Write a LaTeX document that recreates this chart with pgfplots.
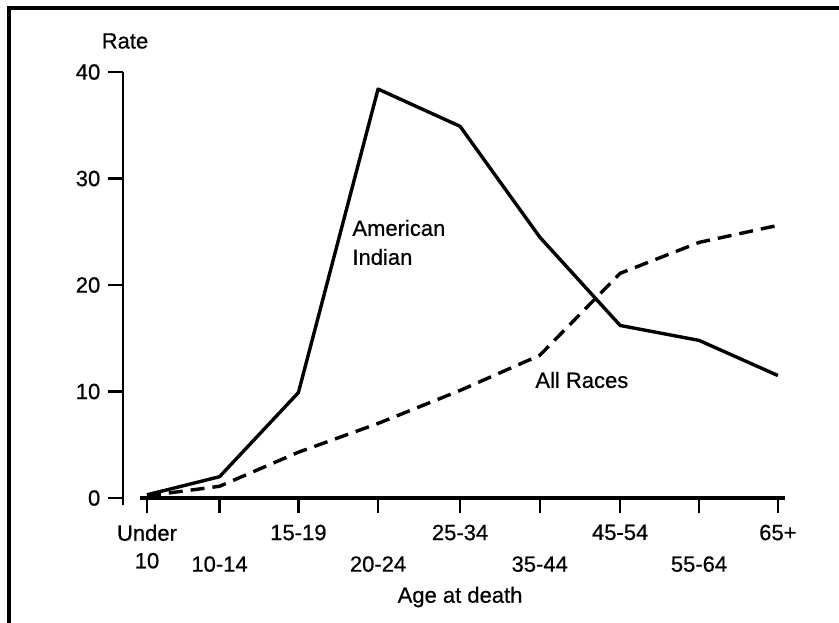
\documentclass[border=0pt]{standalone}
\usepackage{pgfplots}
\pgfplotsset{compat=1.18}
\usepackage{fontspec}
\setmainfont{Liberation Sans}[UprightFeatures={FakeBold=0.6}]
\begin{document}
\fontsize{11}{14.5}\selectfont
\begin{tikzpicture}
\useasboundingbox (-61.5pt,-62pt) rectangle (358pt,249pt);
\draw[line width=2pt] (-56.75pt,-80pt) -- (-56.75pt,245pt) -- (370pt,245pt);
\begin{axis}[
  at={(0,0)}, anchor=south west,
  scale only axis, width=331pt, height=213pt,
  xmin=-0.304, xmax=8.09, ymin=0, ymax=40,
  axis x line=bottom, axis y line=left,
  x axis line style={draw=none},
  y axis line style={line width=1.2pt, -},
  clip=false,
  tick align=outside,
  major tick length=7.5pt,
  every tick/.style={black, line width=1.1pt},
  ytick={0,10,20,30,40},
  xtick={0,0.92,1.92,2.93,3.97,4.98,6,7,8},
  xticklabels={Under\\10, \strut\\10-14, 15-19, \strut\\20-24, 25-34, \strut\\35-44, 45-54, \strut\\55-64, 65+},
  xticklabel style={align=center, anchor=north, yshift=-2pt, font=\fontsize{11}{13.8}\selectfont},
  yticklabel style={anchor=east, font=\fontsize{11}{14.5}\selectfont},
  /pgf/number format/assume math mode=true,
]
\draw[line width=1.8pt] (axis cs:-0.09,0) -- (axis cs:8.09,0);
\draw[line width=1.2pt] (axis cs:-0.304,0) -- (axis cs:-0.304,-0.7);
\addplot[line width=1.7pt, line join=round] coordinates {
  (0,0.3) (0.92,2.0) (1.92,9.9) (2.93,38.4) (3.97,34.9) (4.98,24.5) (6,16.2) (7,14.8) (8,11.5)
};
\addplot[line width=1.7pt, dash pattern=on 7pt off 4pt] coordinates {
  (0,0.2) (0.92,1.1) (1.92,4.3) (2.93,7.0) (3.97,10.1) (4.98,13.4) (6,21.1) (7,24.0) (8,25.6)
};
\node[anchor=west, align=left, inner sep=0pt] at (axis cs:2.6,24.0) {American\\Indian};
\node[anchor=west, inner sep=0pt] at (axis cs:4.92,11.08) {All Races};
\node[inner sep=0pt] at (axis cs:3.97,0) [yshift=-49.5pt] {Age at death};
\node[inner sep=0pt] at (axis cs:-0.304,40) [xshift=1pt, yshift=15.5pt] {Rate};
\end{axis}
\end{tikzpicture}
\end{document}
